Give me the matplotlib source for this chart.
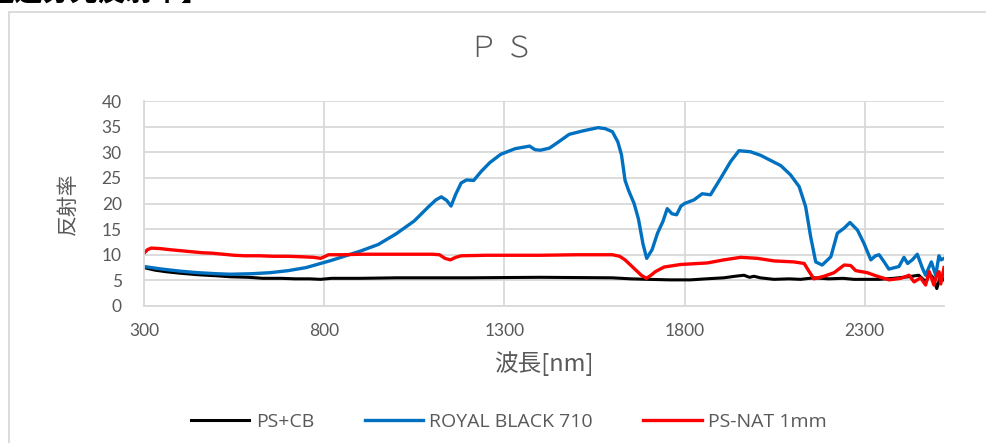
import matplotlib.pyplot as plt
from matplotlib.patches import Rectangle
import numpy as np

plt.rcParams['font.family'] = ['Lato', 'Noto Sans CJK JP', 'DejaVu Sans']

# データ
black_wl = [300, 330, 360, 400, 450, 500, 540, 590, 630, 680, 720, 760, 790, 820, 900, 1000,
            1200, 1400, 1600, 1650, 1700, 1760, 1817, 1860, 1909, 1940, 1965, 1980, 1993, 2010,
            2048, 2090, 2122, 2160, 2200, 2240, 2270, 2300, 2340, 2380, 2420, 2450, 2470, 2480,
            2490, 2500, 2510, 2520]
black_val = [7.5, 7.0, 6.7, 6.4, 6.1, 5.9, 5.7, 5.6, 5.4, 5.4, 5.3, 5.3, 5.2, 5.4, 5.4, 5.5,
             5.5, 5.6, 5.5, 5.3, 5.2, 5.1, 5.1, 5.3, 5.5, 5.8, 6.0, 5.6, 5.8, 5.5,
             5.2, 5.3, 5.2, 5.5, 5.3, 5.4, 5.2, 5.2, 5.2, 5.4, 5.7, 6.0, 4.7, 6.3,
             5.5, 3.4, 5.8, 5.1]

blue_wl = [300, 350, 400, 450, 500, 540, 600, 650, 700, 750, 780, 800, 820, 860, 900, 950,
           1000, 1050, 1090, 1110, 1125, 1140, 1152, 1165, 1180, 1195, 1215, 1235, 1260, 1290,
           1330, 1370, 1385, 1400, 1425, 1450, 1480, 1520, 1560, 1580, 1600, 1615, 1625, 1635,
           1645, 1660, 1672, 1685, 1695, 1710, 1725, 1740, 1752, 1765, 1778, 1790, 1800, 1826,
           1849, 1872, 1900, 1928, 1951, 1983, 2011, 2039, 2067, 2094, 2118, 2136, 2150, 2164,
           2182, 2206, 2224, 2243, 2259, 2280, 2298, 2317, 2330, 2340, 2354, 2367, 2395, 2409,
           2419, 2432, 2446, 2460, 2469, 2478, 2485, 2497, 2506, 2512, 2520]
blue_val = [7.7, 7.2, 6.8, 6.5, 6.3, 6.2, 6.3, 6.5, 6.9, 7.5, 8.1, 8.5, 8.9, 9.8, 10.7, 12.0,
            14.1, 16.6, 19.4, 20.7, 21.3, 20.6, 19.5, 21.8, 24.0, 24.6, 24.5, 26.2, 28.0, 29.6,
            30.7, 31.2, 30.5, 30.4, 30.8, 32.0, 33.5, 34.2, 34.8, 34.6, 34.0, 32.0, 29.5, 24.5,
            22.5, 20.0, 17.0, 12.0, 9.3, 11.0, 14.2, 16.5, 19.0, 18.0, 17.8, 19.5, 20.0, 20.7,
            21.9, 21.7, 24.9, 28.2, 30.3, 30.1, 29.4, 28.4, 27.4, 25.6, 23.3, 19.4, 13.5, 8.6,
            8.0, 9.6, 14.2, 15.2, 16.3, 14.8, 12.2, 9.0, 9.8, 10.0, 8.6, 7.2, 7.7, 9.5,
            8.3, 9.0, 10.1, 7.4, 6.0, 7.5, 8.6, 6.0, 9.8, 9.0, 9.3]

red_wl = [300, 310, 320, 345, 370, 400, 430, 460, 490, 520, 550, 580, 620, 660, 700, 740,
          770, 790, 800, 812, 850, 900, 1000, 1100, 1120, 1135, 1150, 1165, 1180, 1250, 1400,
          1500, 1600, 1620, 1635, 1650, 1665, 1680, 1694, 1705, 1719, 1743, 1789, 1863, 1909,
          1956, 2002, 2048, 2104, 2132, 2145, 2159, 2187, 2215, 2243, 2261, 2275, 2307, 2335,
          2368, 2400, 2423, 2437, 2455, 2469, 2479, 2492, 2500, 2506, 2511, 2520]
red_val = [10.3, 11.0, 11.3, 11.2, 11.0, 10.8, 10.6, 10.4, 10.3, 10.1, 9.9, 9.8, 9.8, 9.7, 9.7, 9.6,
           9.5, 9.3, 9.6, 10.0, 10.0, 10.1, 10.1, 10.1, 10.0, 9.3, 9.0, 9.5, 9.8, 9.9, 9.9,
           10.0, 10.0, 9.7, 9.0, 8.0, 7.0, 6.0, 5.4, 5.9, 6.7, 7.6, 8.1, 8.4, 9.0,
           9.5, 9.3, 8.8, 8.6, 8.3, 6.8, 5.3, 5.8, 6.5, 8.0, 7.9, 6.9, 6.5, 5.8,
           5.1, 5.4, 6.0, 4.7, 5.5, 4.1, 6.7, 4.1, 6.0, 6.7, 4.3, 7.5]

series_names = ['PS+CB', 'ROYAL BLACK 710', 'PS-NAT 1mm']
x_ticks = [300, 800, 1300, 1800, 2300]
y_ticks = [0, 5, 10, 15, 20, 25, 30, 35, 40]

W, H = 986, 443
fig = plt.figure(figsize=(W / 100, H / 100), dpi=100)

# 上の切れたタイトルとグラフ枠
fig.text(-40 / W, 1 - 7 / H, '【透過分光反射率】', fontsize=20, fontweight='bold',
         family=['Noto Sans CJK JP'], ha='left', va='bottom', color='black')
fig.patches.append(Rectangle((9 / W, -0.1), 1.2, 1.1 - 12 / H, transform=fig.transFigure,
                             fill=False, edgecolor='#d9d9d9', linewidth=1.3))

ax = fig.add_axes([144 / W, 1 - 306 / H, 800 / W, 205 / H])
ax.plot(black_wl, black_val, color='black', linewidth=2.2, label=series_names[0])
ax.plot(blue_wl, blue_val, color='#0070C0', linewidth=2.4, label=series_names[1])
ax.plot(red_wl, red_val, color='#FF0000', linewidth=2.4, label=series_names[2])

ax.set_xlim(300, 2520)
ax.set_ylim(0, 40)
ax.set_xticks(x_ticks)
ax.set_yticks(y_ticks)
ax.grid(color='#d9d9d9', linewidth=1.3)
ax.set_axisbelow(True)
for s in ['top', 'right']:
    ax.spines[s].set_visible(False)
for s in ['left', 'bottom']:
    ax.spines[s].set_color('#d9d9d9')
    ax.spines[s].set_linewidth(1.3)
ax.tick_params(axis='both', which='both', length=0, labelsize=12.5, labelcolor='#595959')
ax.tick_params(axis='y', pad=16)
ax.tick_params(axis='x', pad=12)

fig.text(501 / W, 1 - 49 / H, 'Ｐ Ｓ', fontsize=21, color='#595959', family=['Noto Sans CJK JP'],
         fontweight='light', ha='center', va='center')
ax.set_ylabel('反射率', fontsize=15, color='#595959', family=['Noto Sans CJK JP'], labelpad=16)
ax.set_xlabel('波長[nm]', fontsize=17, color='#595959', family=['Noto Sans CJK JP'], labelpad=9)

fig.legend(loc='center', bbox_to_anchor=(509 / W, 1 - 422 / H), ncol=3, frameon=False,
           prop={'family': 'Open Sans', 'size': 14}, labelcolor='#595959',
           handlelength=3, handletextpad=0.33, columnspacing=2.6)

fig.savefig('out.png', dpi=100)
